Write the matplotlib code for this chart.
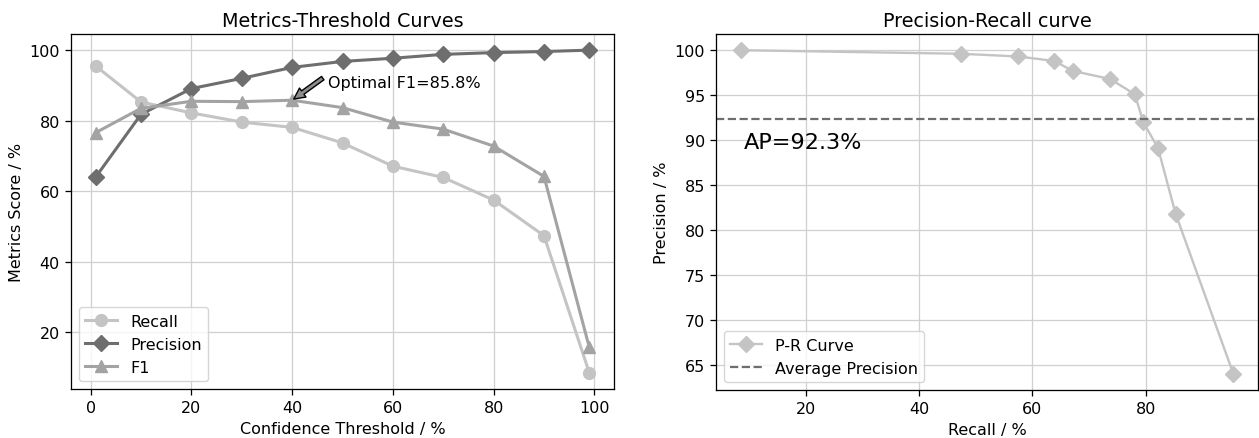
import matplotlib
matplotlib.use("Agg")
import matplotlib.pyplot as plt

thresholds = [1, 10, 20, 30, 40, 50, 60, 70, 80, 90, 99]
recall = [95.5, 85.3, 82.2, 79.6, 78.1, 73.7, 67.1, 63.9, 57.5, 47.4, 8.5]
precision = [64.0, 81.8, 89.1, 92.0, 95.1, 96.8, 97.7, 98.8, 99.3, 99.6, 100.0]
f1 = [76.6, 83.5, 85.5, 85.4, 85.8, 83.7, 79.6, 77.6, 72.8, 64.2, 15.7]

pr_recall = [8.5, 47.4, 57.5, 63.9, 67.1, 73.7, 78.1, 79.6, 82.2, 85.3, 95.5]
pr_precision = [100.0, 99.6, 99.3, 98.8, 97.7, 96.8, 95.1, 92.0, 89.1, 81.8, 64.0]
ap_value = 92.3
best_t = 40
best_f1 = 85.8

c_recall = "#c4c4c4"
c_prec = "#6e6e6e"
c_f1 = "#a3a3a3"

s = 1.15
plt.rcParams.update({
    'font.size': 10 * s,
    'axes.linewidth': 0.8 * s,
    'xtick.major.width': 0.8 * s,
    'ytick.major.width': 0.8 * s,
    'xtick.major.size': 3.5 * s,
    'ytick.major.size': 3.5 * s,
    'xtick.major.pad': 3.5 * s,
    'ytick.major.pad': 3.5 * s,
})

fig = plt.figure(figsize=(12.59, 4.39), dpi=100)
ax1 = fig.add_axes([71/1259, 1-390/439, (614-71)/1259, (390-35)/439])
ax2 = fig.add_axes([716/1259, 1-391/439, (1258-716)/1259, (391-35)/439])

lw = 2.2
ms = 8.5
ax1.plot(thresholds, recall, marker='o', color=c_recall, lw=lw, ms=ms, label='Recall')
ax1.plot(thresholds, precision, marker='D', color=c_prec, lw=lw, ms=ms, label='Precision')
ax1.plot(thresholds, f1, marker='^', color=c_f1, lw=lw, ms=ms, label='F1')
ax1.annotate('', xy=(best_t, best_f1), xytext=(46.4, 92.4),
             arrowprops=dict(facecolor='#8c8c8c', edgecolor='black', shrink=0.05,
                             width=3, headwidth=8, headlength=8, lw=1))
ax1.text(47.1, 90.9, f'Optimal F1={best_f1}%', fontsize=10 * s, va='center', ha='left')
ax1.set_title('Metrics-Threshold Curves', fontsize=12 * s)
ax1.set_xlabel('Confidence Threshold / %', fontsize=10 * s)
ax1.set_ylabel('Metrics Score / %', fontsize=10 * s)
ax1.grid(True, color='#d0d0d0', lw=0.8 * s)
ax1.set_axisbelow(True)
ax1.legend(loc='lower left', fontsize=10 * s)

ax2.plot(pr_recall, pr_precision, marker='D', color=c_recall, lw=1.7, ms=ms, label='P-R Curve')
ax2.axhline(ap_value, color=c_prec, ls='--', lw=1.6, label='Average Precision')
ax2.text(9, 89.75, f'AP={ap_value}%', fontsize=14 * s, va='center', ha='left')
ax2.set_title('Precision-Recall curve', fontsize=12 * s)
ax2.set_xlabel('Recall / %', fontsize=10 * s)
ax2.set_ylabel('Precision / %', fontsize=10 * s)
ax2.grid(True, color='#d0d0d0', lw=0.8 * s)
ax2.set_axisbelow(True)
ax2.legend(loc='lower left', fontsize=10 * s)

fig.savefig('out.png', dpi=100)
